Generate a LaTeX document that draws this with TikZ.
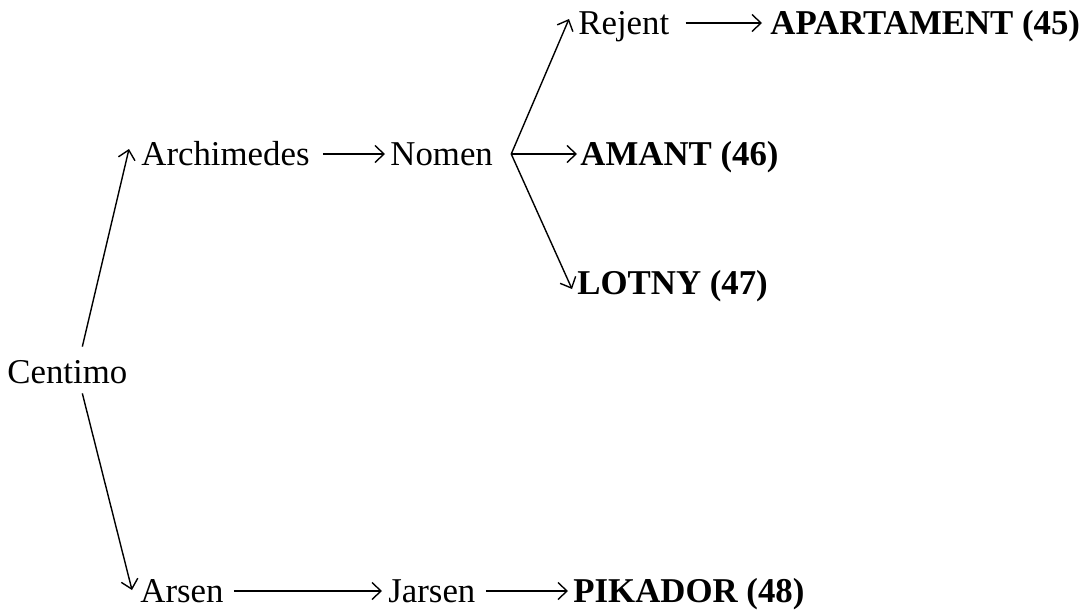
\documentclass[tikz,border=0pt]{standalone}
\usepackage{fontspec}
\setmainfont{Liberation Serif}
\usetikzlibrary{arrows.meta}
\begin{document}
\begin{tikzpicture}[x=0.5pt,y=-0.5pt,
  txt/.style={inner sep=0pt, anchor=west, text height=11.5pt, text depth=0pt, font=\fontsize{17.4}{20}\selectfont},
  bld/.style={txt, font=\fontsize{17.4}{20}\selectfont\bfseries},
  arr/.style={line width=0.7pt, -{Straight Barb[length=4.5pt,width=8.5pt]}}]
\useasboundingbox (0,0) rectangle (1089,611);
\node[txt] (cent) at (7,372) {Centimo};
\node[txt] (arch) at (141,154) {Archimedes};
\node[txt] (nomen) at (390,154) {Nomen};
\node[txt] (rejent) at (578,23) {Rejent};
\node[bld] (apt) at (770,23) {APARTAMENT (45)};
\node[bld] (amant) at (580,154) {AMANT (46)};
\node[bld] (lotny) at (577,283) {LOTNY (47)};
\node[txt] (arsen) at (140,591) {Arsen};
\node[txt] (jarsen) at (388,591) {Jarsen};
\node[bld] (pik) at (573,591) {PIKADOR (48)};
\draw[arr] ([xshift=7.5pt,yshift=6.75pt]cent.north) -- ([xshift=-6pt,yshift=2.5pt]arch.west);
\draw[arr] ([xshift=7.5pt,yshift=-4.75pt]cent.south) -- ([xshift=-4pt,yshift=0.5pt]arsen.west);
\draw[arr] ([xshift=6.5pt]arch.east) -- ([xshift=-2.5pt]nomen.west);
\draw[arr] ([xshift=9pt]nomen.east) -- ([xshift=-4.5pt,yshift=2pt]rejent.west);
\draw[arr] ([xshift=9pt]nomen.east) -- ([xshift=-1.5pt]amant.west);
\draw[arr] ([xshift=9pt]nomen.east) -- ([xshift=-2.5pt,yshift=-3pt]lotny.west);
\draw[arr] ([xshift=8pt]rejent.east) -- ([xshift=-4pt]apt.west);
\draw[arr] ([xshift=5pt]arsen.east) -- ([xshift=-3pt]jarsen.west);
\draw[arr] ([xshift=5pt]jarsen.east) -- ([xshift=-2.5pt]pik.west);
\end{tikzpicture}
\end{document}
